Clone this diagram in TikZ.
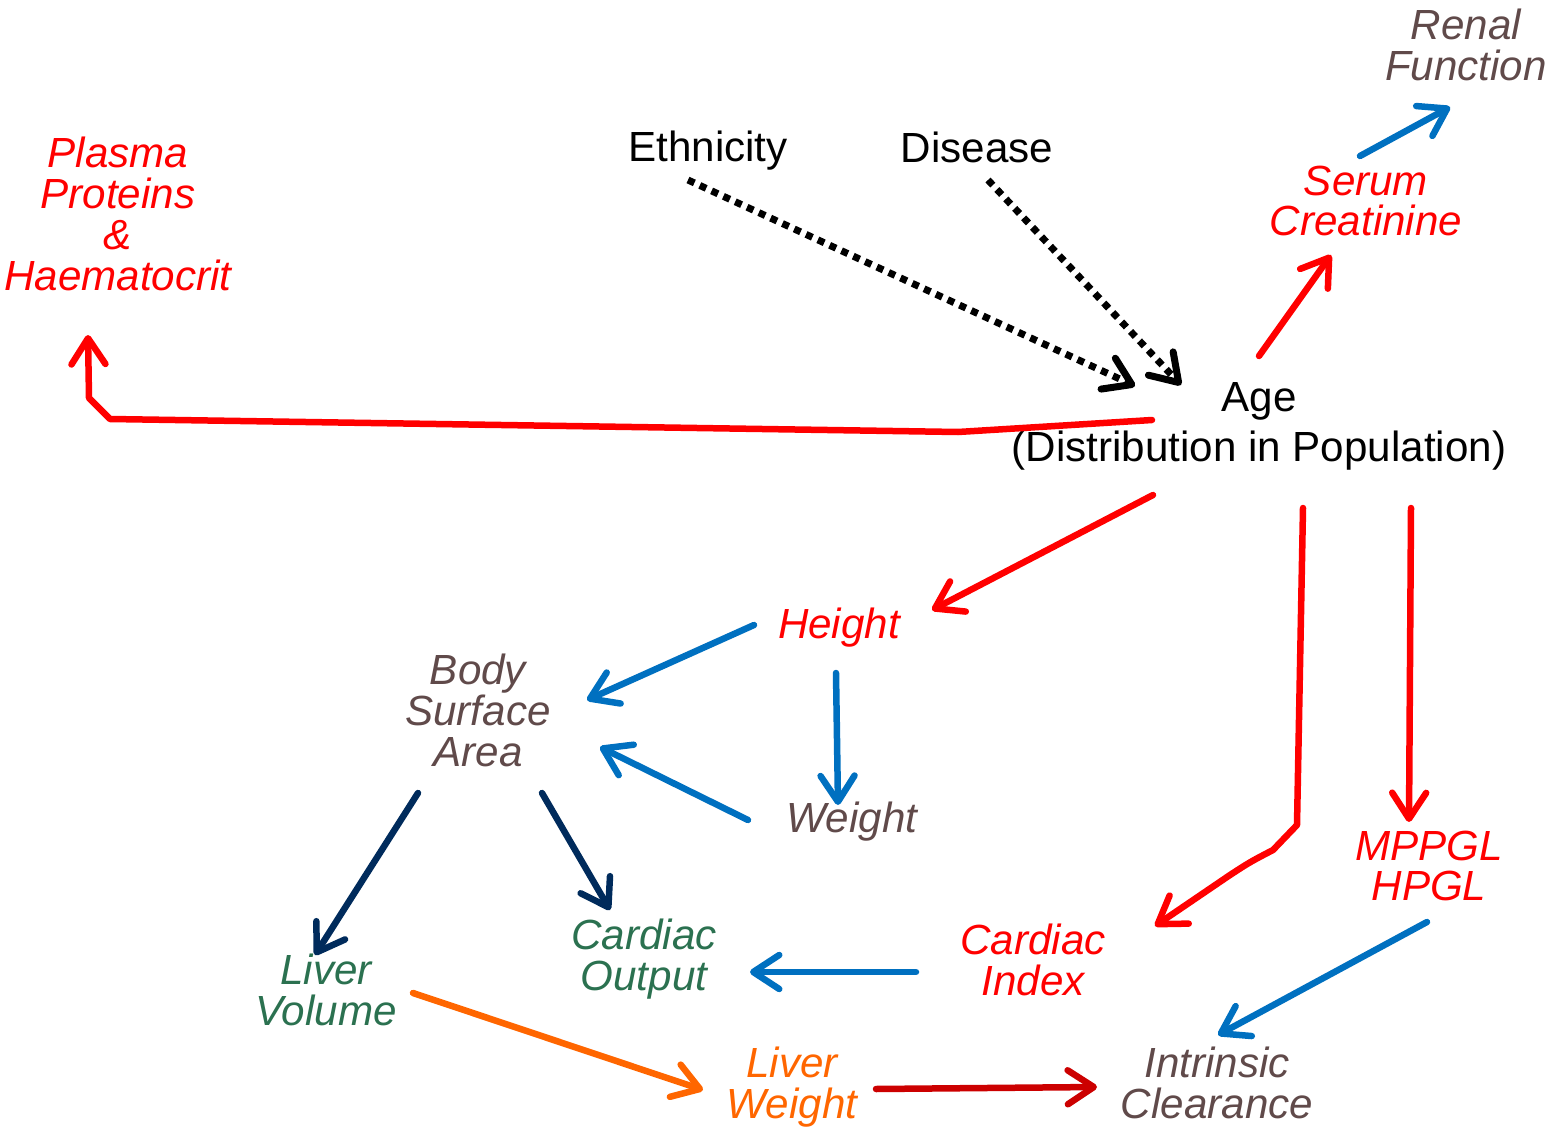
\documentclass[tikz,border=0pt]{standalone}
\usepackage{fontspec}
\setmainfont{Liberation Sans}
\usetikzlibrary{arrows.meta}
\definecolor{agered}{HTML}{FF0000}
\definecolor{linkblue}{HTML}{0070C0}
\definecolor{bodybrown}{HTML}{604A4A}
\definecolor{organgreen}{HTML}{2B7150}
\definecolor{darknavy}{HTML}{002B5C}
\definecolor{liverorange}{HTML}{FF6600}
\definecolor{darkred}{HTML}{CC0000}

\tikzset{
	lbl/.style={font=\fontsize{24}{23.3}\selectfont\itshape, align=center, inner sep=0pt},
	plain/.style={font=\fontsize{24}{28.5}\selectfont, align=center, inner sep=0pt},
	arr/.style={line width=0.13cm, line cap=round, line join=round,
		-{Straight Barb[round, length=0.52cm, width=0.68cm]}},
	dots/.style={arr, line cap=butt, black, line width=0.14cm, dash pattern=on 0.14cm off 0.12cm}
}

\begin{document}
\begin{tikzpicture}[x=0.02cm, y=-0.02cm]
	\useasboundingbox (0,0) rectangle (1556,1132);
	\node[plain] (eth) at (708,151) {Ethnicity};
	\node[plain] (dis) at (977,147) {Disease};
	\node[plain] (age) at (1259,426) {Age\\(Distribution in Population)};
	\node[lbl, bodybrown] (renal) at (1466,45) {Renal\\Function};
	\node[lbl, agered] (serum) at (1366,201) {Serum\\Creatinine};
	\node[lbl, agered] (plasma) at (118,214) {Plasma\\Proteins\\\&\\Haematocrit};
	\node[lbl, agered] (height) at (839,628) {Height};
	\node[lbl, bodybrown] (bsa) at (478,710) {Body\\Surface\\Area};
	\node[lbl, bodybrown] (weight) at (852,822) {Weight};
	\node[lbl, agered] (mppgl) at (1429,866) {MPPGL\\HPGL};
	\node[lbl, organgreen] (livvol) at (326,990) {Liver\\Volume};
	\node[lbl, organgreen] (cardout) at (644,959) {Cardiac\\Output};
	\node[lbl, agered] (cardidx) at (1033,960) {Cardiac\\Index};
	\node[lbl, liverorange] (livwt) at (792,1087) {Liver\\Weight};
	\node[lbl, bodybrown] (intcl) at (1217,1083) {Intrinsic\\Clearance};

	\draw[dots] ([shift={(-20,29)}]eth.center) -- ([shift={(-124,-40)}]age.center);
	\draw[dots] ([shift={(11,33)}]dis.center) -- ([shift={(-78,-41)}]age.center);
	\draw[arr, agered] ([shift={(0,-70)}]age.center) -- ([shift={(-35,54)}]serum.center);
	\draw[arr, linkblue] ([shift={(-6,-45)}]serum.center) -- ([shift={(-16,62)}]renal.center);
	\draw[arr, agered] ([shift={(-107,-6)}]age.center) -- (958,432) -- (110,419) -- (89,398)
		-- ([shift={(-30,121)}]plasma.center);
	\draw[arr, agered] ([shift={(-106,69)}]age.center) -- ([shift={(93,-18)}]height.center);
	\draw[arr, linkblue] ([shift={(-85,-3)}]height.center) -- ([shift={(109,-10)}]bsa.center);
	\draw[arr, linkblue] ([shift={(-3,45)}]height.center) -- ([shift={(-14,-17)}]weight.center);
	\draw[arr, linkblue] ([shift={(-104,-2)}]weight.center) -- ([shift={(122,37)}]bsa.center);
	\draw[arr, darknavy] ([shift={(-60,83)}]bsa.center) -- ([shift={(-11,-35)}]livvol.center);
	\draw[arr, darknavy] ([shift={(64,83)}]bsa.center) -- ([shift={(-34,-49)}]cardout.center);
	\draw[arr, agered] ([shift={(44,82)}]age.center) -- (1297,825) -- (1273,850)
		.. controls (1250,862) .. (1230,875) -- ([shift={(122,-34)}]cardidx.center);
	\draw[arr, agered] ([shift={(152,82)}]age.center) -- ([shift={(-20,-44)}]mppgl.center);
	\draw[arr, linkblue] ([shift={(-117,12)}]cardidx.center) -- ([shift={(106,13)}]cardout.center);
	\draw[arr, linkblue] ([shift={(-2,56)}]mppgl.center) -- ([shift={(1,-48)}]intcl.center);
	\draw[arr, liverorange] ([shift={(87,3)}]livvol.center) -- ([shift={(-89,3)}]livwt.center);
	\draw[arr, darkred] ([shift={(84,2)}]livwt.center) -- ([shift={(-120,4)}]intcl.center);
\end{tikzpicture}
\end{document}
